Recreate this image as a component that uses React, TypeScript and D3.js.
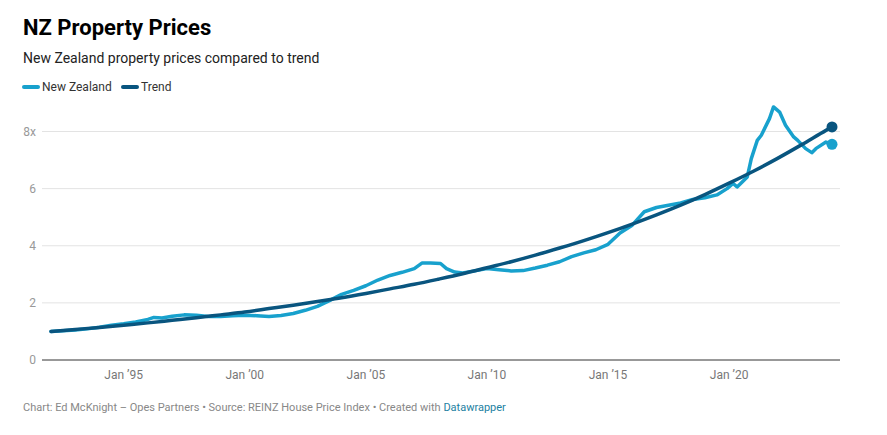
import React from "react";
import * as d3 from "d3";

const nzDates = [
  "1992-01","1992-07","1993-01","1993-07","1994-01","1994-07","1995-01","1995-07","1996-01","1996-04",
  "1996-08","1997-01","1997-07","1998-01","1998-07","1999-01","1999-07","2000-01","2000-07","2001-01",
  "2001-07","2002-01","2002-07","2003-01","2003-07","2004-01","2004-07","2005-01","2005-07","2006-01",
  "2006-07","2007-01","2007-05","2007-09","2008-02","2008-05","2008-09","2009-01","2009-07","2010-01",
  "2010-07","2011-01","2011-07","2012-01","2012-07","2013-01","2013-07","2014-01","2014-07","2015-01",
  "2015-07","2016-01","2016-07","2017-01","2017-07","2018-01","2018-07","2019-01","2019-07","2019-12",
  "2020-03","2020-05","2020-10","2020-12","2021-03","2021-05","2021-09","2021-11","2022-02","2022-05",
  "2022-09","2022-11","2023-03","2023-06","2023-08","2024-01","2024-04"
];
const nzValues = [
  1.00,1.02,1.05,1.09,1.15,1.22,1.27,1.33,1.42,1.49,
  1.47,1.53,1.58,1.57,1.52,1.52,1.55,1.57,1.55,1.52,
  1.56,1.63,1.74,1.88,2.08,2.30,2.44,2.60,2.80,2.96,
  3.07,3.20,3.40,3.40,3.38,3.20,3.08,3.05,3.12,3.20,
  3.16,3.12,3.13,3.22,3.32,3.44,3.62,3.75,3.86,4.05,
  4.45,4.72,5.19,5.34,5.42,5.50,5.62,5.68,5.78,6.00,
  6.18,6.06,6.41,7.05,7.69,7.87,8.45,8.86,8.68,8.22,
  7.81,7.69,7.40,7.26,7.40,7.63,7.55
];

const trendDates = [
  "1992-01","1993-01","1994-01","1995-01","1996-01","1997-01","1998-01","1999-01","2000-01","2001-01",
  "2002-01","2003-01","2004-01","2005-01","2006-01","2007-01","2008-01","2009-01","2010-01","2011-01",
  "2012-01","2013-01","2014-01","2015-01","2016-01","2017-01","2018-01","2019-01","2020-01","2021-01",
  "2022-01","2023-01","2024-01","2024-04"
];
const trendValues = [
  1.00,1.07,1.14,1.22,1.30,1.39,1.48,1.58,1.68,1.80,
  1.92,2.05,2.18,2.33,2.49,2.65,2.83,3.02,3.23,3.44,
  3.67,3.92,4.18,4.46,4.76,5.08,5.42,5.79,6.19,6.61,
  7.06,7.54,8.04,8.16
];

const yTicks = [0, 2, 4, 6, 8];
const xTickYears = [1995, 2000, 2005, 2010, 2015, 2020];

const NZ_COLOR = "#18a1cd";
const TREND_COLOR = "#09557f";

const parse = d3.timeParse("%Y-%m");

export default function App() {
  const width = 887;
  const height = 435;
  const x = d3
    .scaleTime()
    .domain([parse("1992-01")!, parse("2024-04")!])
    .range([51, 832]);
  const y = d3.scaleLinear().domain([0, 8]).range([360, 131.5]);

  const nz = nzDates.map((d, i) => ({ date: parse(d)!, value: nzValues[i] }));
  const trend = trendDates.map((d, i) => ({ date: parse(d)!, value: trendValues[i] }));

  const nzLine = d3
    .line<{ date: Date; value: number }>()
    .x((d) => x(d.date))
    .y((d) => y(d.value))
    .curve(d3.curveLinear);
  const trendLine = d3
    .line<{ date: Date; value: number }>()
    .x((d) => x(d.date))
    .y((d) => y(d.value))
    .curve(d3.curveMonotoneX);

  const nzLast = nz[nz.length - 1];
  const trLast = trend[trend.length - 1];
  const font = "Roboto, sans-serif";

  return (
    <svg
      width={width}
      height={height}
      style={{ position: "absolute", left: 0, top: 0, background: "#fff" }}
      fontFamily={font}
    >
      <text x={23} y={35} fontSize={22} fontWeight={700} fill="#000">
        NZ Property Prices
      </text>
      <text x={23} y={63} fontSize={14} fill="#222">
        New Zealand property prices compared to trend
      </text>
      <g>
        <line x1={24} x2={38} y1={87} y2={87} stroke={NZ_COLOR} strokeWidth={4} strokeLinecap="round" />
        <text x={42} y={91} fontSize={12} fill="#333">New Zealand</text>
        <line x1={123} x2={137} y1={87} y2={87} stroke={TREND_COLOR} strokeWidth={4} strokeLinecap="round" />
        <text x={141} y={91} fontSize={12} fill="#333">Trend</text>
      </g>

      {yTicks.map((t) => (
        <g key={t}>
          {t !== 0 && (
            <line x1={42} x2={840} y1={y(t)} y2={y(t)} stroke="#e3e3e3" strokeWidth={1} />
          )}
          <text x={36} y={y(t) + 4} fontSize={12} fill="#999" textAnchor="end">
            {t === 8 ? "8x" : String(t)}
          </text>
        </g>
      ))}
      <line x1={42} x2={840} y1={y(0)} y2={y(0)} stroke="#333" strokeWidth={1} />

      {xTickYears.map((yr) => (
        <text
          key={yr}
          x={x(new Date(yr, 0, 1))}
          y={379}
          fontSize={12}
          fill="#777"
          textAnchor="middle"
        >
          {`Jan \u2019${String(yr).slice(2)}`}
        </text>
      ))}

      <path d={nzLine(nz) || ""} fill="none" stroke={NZ_COLOR} strokeWidth={3.5} strokeLinejoin="round" strokeLinecap="round" />
      <path d={trendLine(trend) || ""} fill="none" stroke={TREND_COLOR} strokeWidth={3.5} strokeLinejoin="round" strokeLinecap="round" />
      <circle cx={x(nzLast.date)} cy={y(nzLast.value)} r={5.5} fill={NZ_COLOR} />
      <circle cx={x(trLast.date)} cy={y(trLast.value)} r={5.5} fill={TREND_COLOR} />

      <text x={23} y={411} fontSize={11} fill="#888">
        Chart: Ed McKnight – Opes Partners • Source: REINZ House Price Index • Created with{" "}
        <tspan fill="#1d81a2">Datawrapper</tspan>
      </text>
    </svg>
  );
}
